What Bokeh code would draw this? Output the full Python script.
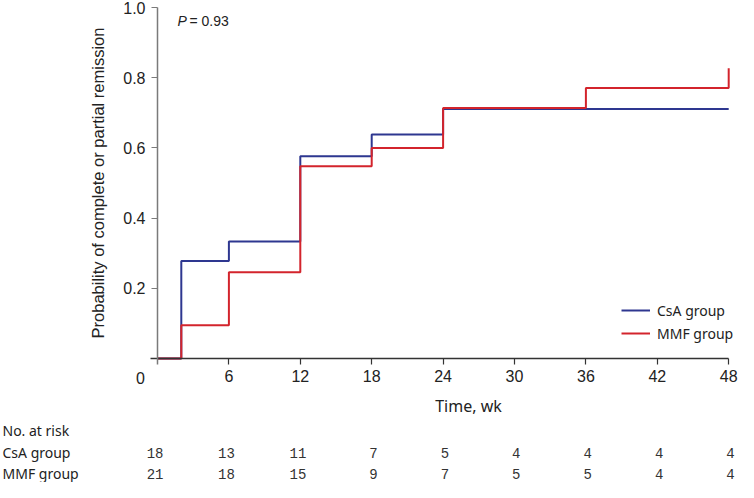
import math
from bokeh.plotting import figure
from bokeh.models import (Range1d, FixedTicker, NumeralTickFormatter, Label,
                          Legend, LegendItem, LinearAxis)
from bokeh.core.properties import value
from bokeh.embed import file_html
from bokeh.resources import INLINE

# ---------------- data ----------------
csa_time = [0, 2, 6, 12, 18, 24, 48]
csa_prob = [0.0, 0.278, 0.333, 0.576, 0.638, 0.711, 0.711]
mmf_time = [0, 2, 6, 12, 18, 24, 36, 48]
mmf_prob = [0.0, 0.095, 0.246, 0.548, 0.600, 0.714, 0.771, 0.827]

x_ticks = [6, 12, 18, 24, 30, 36, 42, 48]
y_ticks = [0.2, 0.4, 0.6, 0.8, 1.0]

risk_weeks = [0, 6, 12, 18, 24, 30, 36, 42, 48]
csa_risk = [18, 13, 11, 7, 5, 4, 4, 4, 4]
mmf_risk = [21, 18, 15, 9, 7, 5, 5, 4, 4]
groups = ["CsA group", "MMF group"]

BLUE = "#2E3790"
RED = "#D3242C"
SANS = "Noto Sans"
ARIAL = "Liberation Sans"
INK = "#222222"

# ---------------- layout (pixels -> data) ----------------
W, H = 738, 482
SX = 11.9            # px per week
SY = 351.0           # px per unit probability
X_ZERO = 157.0       # canvas x of week 0
Y_ZERO = 358.0       # canvas y (from top) of probability 0
x_start = -X_ZERO / SX
x_end = x_start + W / SX
y_end = Y_ZERO / SY
y_start = y_end - H / SY

def ydata(canvas_y):
    return (Y_ZERO - canvas_y) / SY

def xdata(canvas_x):
    return (canvas_x - X_ZERO) / SX

p = figure(width=W, height=H, x_range=Range1d(x_start, x_end), y_range=Range1d(y_start, y_end),
           output_backend="svg", toolbar_location=None, min_border=0,
           x_axis_type=None, y_axis_type=None)
p.outline_line_color = None

xaxis = LinearAxis(fixed_location=0, ticker=FixedTicker(ticks=x_ticks),
                   bounds=(xdata(X_ZERO - 7), 48))
xaxis.axis_line_color = "#333333"
xaxis.axis_line_width = 1.5
xaxis.major_tick_line_color = "#333333"
xaxis.major_tick_line_width = 1.2
xaxis.major_tick_in = 0
xaxis.major_tick_out = 6
xaxis.minor_tick_line_color = None
xaxis.major_label_standoff = 5
xaxis.major_label_text_font = ARIAL
xaxis.major_label_text_font_size = "16px"
xaxis.major_label_text_color = INK
p.add_layout(xaxis, "below")

yaxis = LinearAxis(fixed_location=0, ticker=FixedTicker(ticks=y_ticks),
                   formatter=NumeralTickFormatter(format="0.0"),
                   bounds=(ydata(Y_ZERO + 6), 1.0))
yaxis.axis_line_color = "#7a7a7a"
yaxis.axis_line_width = 1.5
yaxis.major_tick_line_color = "#7a7a7a"
yaxis.major_tick_line_width = 1.2
yaxis.major_tick_in = 0
yaxis.major_tick_out = 6
yaxis.minor_tick_line_color = None
yaxis.major_label_standoff = 6
yaxis.major_label_text_font = ARIAL
yaxis.major_label_text_font_size = "16px"
yaxis.major_label_text_color = INK
p.add_layout(yaxis, "left")

r_csa = p.step(x=csa_time, y=csa_prob, mode="after", line_color=BLUE, line_width=2)
r_mmf = p.step(x=mmf_time, y=mmf_prob, mode="after", line_color=RED, line_width=2)

legend = Legend(items=[LegendItem(label=groups[0], renderers=[r_csa]),
                       LegendItem(label=groups[1], renderers=[r_mmf])],
                location=(621, 139), orientation="vertical")
legend.glyph_width = 29
legend.glyph_height = 20
legend.label_height = 20
legend.label_standoff = 7
legend.spacing = 3
legend.padding = 0
legend.margin = 0
legend.border_line_color = None
legend.background_fill_alpha = 0
legend.label_text_font = SANS
legend.label_text_font_size = "14px"
legend.label_text_color = INK
p.add_layout(legend)

def label(x, y, text, font=ARIAL, size="16px", align="center", angle=0, style="normal",
          x_offset=0):
    p.add_layout(Label(x=x, y=y, text=text, text_align=align, text_baseline="middle",
                       angle=angle, text_font=font, text_font_size=size,
                       text_font_style=style, text_color=INK, x_offset=x_offset))

# corner "0" tick label
label(xdata(X_ZERO - 17), ydata(Y_ZERO + 19), "0")
# axis titles
label(xdata(X_ZERO - 60), 0.5, "Probability of complete or partial remission", size="16.5px",
      angle=math.pi / 2)
label(xdata(468), ydata(Y_ZERO + 47), "Time, wk", font=SANS, size="16px")
# P value
label(xdata(X_ZERO + 20), ydata(20), "P", size="14px", align="left", style="italic")
label(xdata(X_ZERO + 20), ydata(20), "= 0.93", size="14px", align="left", x_offset=12)

# ---------------- numbers at risk ----------------
row_y = [ydata(Y_ZERO + 94), ydata(Y_ZERO + 115)]
for ry, risk in zip(row_y, [csa_risk, mmf_risk]):
    p.text(x=risk_weeks, y=[ry] * len(risk_weeks), text=[str(v) for v in risk],
           text_align="right", text_baseline="middle", x_offset=6,
           text_font=value("Liberation Mono"), text_font_size="14px", text_color="#333333")

for ry, name in [(ydata(Y_ZERO + 72), "No. at risk"), (row_y[0], groups[0]), (row_y[1], groups[1])]:
    label(x_start, ry, name, font=SANS, size="14px", align="left", x_offset=2)

open("out.html", "w").write(file_html(p, INLINE))
